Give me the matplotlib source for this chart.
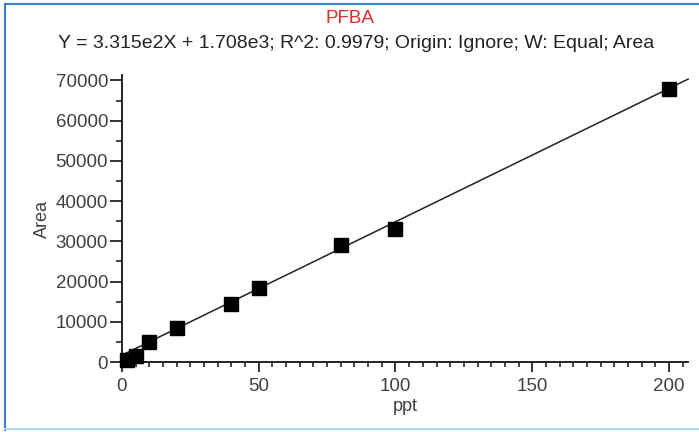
import matplotlib

matplotlib.use('Agg')
import matplotlib.pyplot as plt
from matplotlib.lines import Line2D
from matplotlib.ticker import MultipleLocator

plt.rcParams['font.family'] = ['Liberation Sans', 'DejaVu Sans']

# calibration points (ppt vs peak area)
conc = [2, 5, 10, 20, 40, 50, 80, 100, 200]
area = [500, 1500, 5000, 8500, 14400, 18300, 29000, 33000, 67800]

# fitted line from the header
slope = 331.5
intercept = 1708
fit_x = [0, 207]
fit_y = [slope * x + intercept for x in fit_x]

title = "PFBA"
subtitle = "Y = 3.315e2X + 1.708e3; R^2: 0.9979; Origin: Ignore; W: Equal; Area"

fig = plt.figure(figsize=(6.99, 4.32), dpi=100)
ax = fig.add_axes([0.1745, 0.162, 0.81, 0.664])

ax.plot(fit_x, fit_y, color='#222222', lw=1.1, clip_on=False)
ax.plot(conc, area, 's', color='black', markersize=10, clip_on=False, zorder=3)

ax.set_xlim(0, 207)
ax.set_ylim(0, 71300)
ax.xaxis.set_major_locator(MultipleLocator(50))
ax.xaxis.set_minor_locator(MultipleLocator(5))
ax.yaxis.set_major_locator(MultipleLocator(10000))
ax.yaxis.set_minor_locator(MultipleLocator(5000))

for side in ['top', 'right']:
    ax.spines[side].set_visible(False)
for side in ['left', 'bottom']:
    ax.spines[side].set_linewidth(1.3)
    ax.spines[side].set_color('#111111')

ax.tick_params(which='major', width=1.2, labelsize=13.5,
               labelcolor='#404040', color='#111111')
ax.tick_params(axis='y', which='major', length=9, pad=1)
ax.tick_params(axis='x', which='major', length=7.5, pad=4)
ax.tick_params(axis='y', which='minor', length=4.5, width=1.1, color='#111111')
ax.tick_params(axis='x', which='minor', length=3.5, width=1.1, color='#111111')

ax.set_xlabel("ppt", fontsize=13, color='#404040', labelpad=2)
ax.set_ylabel("Area", fontsize=13, color='#404040')
ax.yaxis.set_label_coords(-0.125, 0.5)

fig.text(0.5, 0.958, title, ha='center', va='center', color='#e82a2a', fontsize=13.5)
fig.text(0.51, 0.899, subtitle, ha='center', va='center', color='#222222', fontsize=14)

# blue frame around the picture
fig.add_artist(Line2D([0.007, 0.007], [0.005, 0.99], color='#3b82c8', lw=1.5))
fig.add_artist(Line2D([0.007, 1.0], [0.99, 0.99], color='#3b82c8', lw=1.5))
fig.add_artist(Line2D([0.007, 1.0], [0.006, 0.006], color='#b8d4ee', lw=1.5))

fig.savefig("out.png", dpi=100)
